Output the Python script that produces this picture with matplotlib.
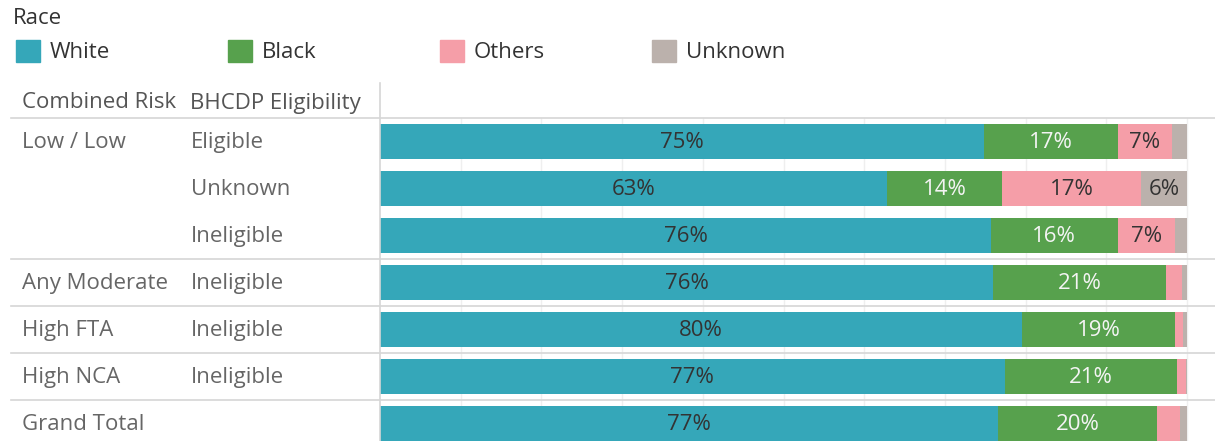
import numpy as np
import matplotlib.pyplot as plt
from matplotlib.patches import Rectangle
from matplotlib.lines import Line2D
import matplotlib.transforms as mtransforms

plt.rcParams['font.family'] = ['Open Sans', 'DejaVu Sans']

# data (percent of each row)
risk_groups = ['Low / Low', '', '', 'Any Moderate', 'High FTA', 'High NCA', 'Grand Total']
eligibility = ['Eligible', 'Unknown', 'Ineligible', 'Ineligible', 'Ineligible', 'Ineligible', '']
races = ['White', 'Black', 'Others', 'Unknown']
white = [74.8, 62.8, 75.7, 76.0, 79.6, 77.4, 76.6]
black = [16.6, 14.3, 15.7, 21.4, 18.9, 21.4, 19.7]
others = [6.8, 17.2, 7.1, 2.0, 1.0, 1.1, 2.8]
unknown = [1.8, 5.7, 1.5, 0.6, 0.5, 0.1, 0.9]

colors = ['#35a7b9', '#57a14d', '#f59ea8', '#bbb1ac']
text_colors = ['#333333', '#f4f4f4', '#333333', '#333333']
label_gray = '#666666'
line_gray = '#d6d6d6'
fs = 16

W, H = 1215, 441
fig = plt.figure(figsize=(W / 100, H / 100), dpi=100)

# plot area: 0% at x=380px, 100% at x=1187px
x0, x100 = 380, 1187
top, bottom = 118, 441
ax = fig.add_axes([x0 / W, 0, (W - x0) / W, (bottom - top) / H])
n = len(white)
row_px = 47
ax.set_ylim(-0.5 + (bottom - top) / row_px, -0.5)
ax.set_xlim(0, 100 * (W - x0) / (x100 - x0))
ax.axis('off')

# faint vertical gridlines
for g in range(10, 101, 10):
    ax.axvline(g, color='#efefef', lw=1, zorder=0)

series = [white, black, others, unknown]
y = np.arange(n)
left = np.zeros(n)
for vals, c, tc in zip(series, colors, text_colors):
    vals = np.array(vals)
    ax.barh(y, vals, left=left, height=0.74, color=c, zorder=2)
    for yi, (l, v) in enumerate(zip(left, vals)):
        if v >= 5:
            ax.text(l + v / 2, yi + 0.02, f'{round(v):.0f}%', ha='center', va='center',
                    fontsize=fs, color=tc, zorder=3)
    left += vals

# row separators and header line
blend = mtransforms.blended_transform_factory(fig.transFigure, ax.transData)
for sep in [-0.5, 2.5, 3.5, 4.5, 5.5]:
    fig.add_artist(Line2D([11 / W, 1], [sep, sep], transform=blend,
                          color=line_gray, lw=1.2))
# vertical divider
fig.add_artist(Line2D([x0 / W, x0 / W], [0, 1 - 83 / H], transform=fig.transFigure,
                      color=line_gray, lw=1.2))

# row header labels
for yi, (g, e) in enumerate(zip(risk_groups, eligibility)):
    fig.text(22 / W, 0, g, transform=blend, fontsize=fs, color=label_gray, va='center')
    fig.text(191 / W, 0, e, transform=blend, fontsize=fs, color=label_gray, va='center')
    fig.texts[-2].set_y(yi + 0.02)
    fig.texts[-1].set_y(yi + 0.02)

fig.text(22 / W, 1 - 103 / H, 'Combined Risk', fontsize=fs, color='#555555', va='center')
fig.text(190 / W, 1 - 103 / H, 'BHCDP Eligibility', fontsize=fs, color='#555555', va='center')

# legend
fig.text(13 / W, 1 - 19 / H, 'Race', fontsize=fs, color='#333333', va='center')
for i, (r, c) in enumerate(zip(races, colors)):
    lx = 16 + 212 * i
    fig.add_artist(Rectangle((lx / W, 1 - 62 / H), 24 / W, 22 / H,
                             transform=fig.transFigure, color=c))
    fig.text((lx + 34) / W, 1 - 52 / H, r, fontsize=fs, color='#333333', va='center')

fig.savefig('out.png', dpi=100)
